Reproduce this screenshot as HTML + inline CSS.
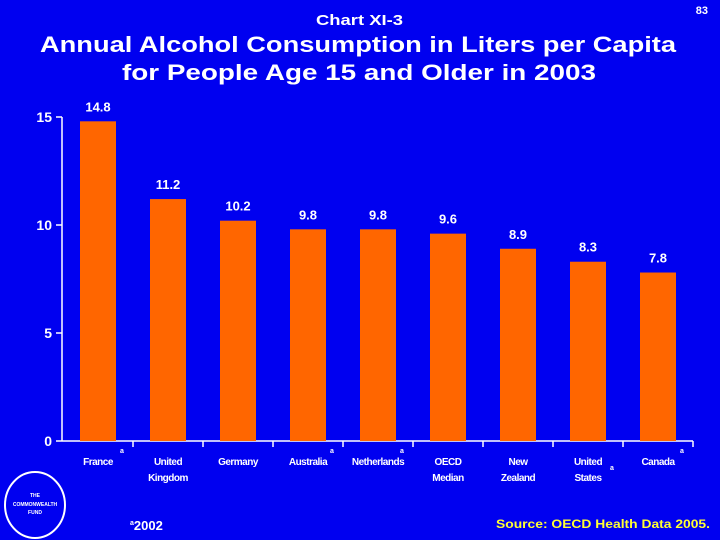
<!DOCTYPE html>
<html><head><meta charset="utf-8"><style>
body{margin:0;background:#0000f0;}
svg{display:block;font-family:"Liberation Sans",Arial,sans-serif;font-weight:bold;}
</style></head><body>
<svg width="720" height="540" viewBox="0 0 720 540">
<rect width="720" height="540" fill="#0000f0"/>
<text x="316" y="25" font-size="15" fill="#fff" textLength="87" lengthAdjust="spacingAndGlyphs">Chart XI-3</text>
<text x="708" y="14" font-size="11" fill="#fff" text-anchor="end">83</text>
<text x="40" y="52" font-size="22" fill="#fff" textLength="636" lengthAdjust="spacingAndGlyphs">Annual Alcohol Consumption in Liters per Capita</text>
<text x="122" y="80" font-size="22" fill="#fff" textLength="474" lengthAdjust="spacingAndGlyphs">for People Age 15 and Older in 2003</text>
<g id="plot"></g>
<ellipse cx="35" cy="505" rx="30" ry="33" fill="none" stroke="#fff" stroke-width="2"/>
<text x="35" y="497" font-size="5" fill="#fff" text-anchor="middle">THE</text>
<text x="35" y="506" font-size="5" fill="#fff" text-anchor="middle">COMMONWEALTH</text>
<text x="35" y="514" font-size="5" fill="#fff" text-anchor="middle">FUND</text>
<text x="130" y="530" font-size="13" fill="#fff"><tspan font-size="7" dy="-5">a</tspan><tspan dy="5">2002</tspan></text>
<text x="496" y="528" font-size="12" fill="#ffff33" textLength="214" lengthAdjust="spacingAndGlyphs">Source: OECD Health Data 2005.</text>
</svg>
<script>
const categories=[["France"],["United","Kingdom"],["Germany"],["Australia"],["Netherlands"],["OECD","Median"],["New","Zealand"],["United","States"],["Canada"]];
const values=[14.8,11.2,10.2,9.8,9.8,9.6,8.9,8.3,7.8];
const labels=["14.8","11.2","10.2","9.8","9.8","9.6","8.9","8.3","7.8"];
const footA=[true,false,false,true,true,false,false,true,true];
const yTicks=[0,5,10,15];
const NS="http://www.w3.org/2000/svg";
const g=document.getElementById('plot');
const x0=63,cw=70,yBase=441,pxPer=21.6;
const y=v=>yBase-v*pxPer;
const xc=i=>x0+cw*i+cw/2;
function mk(t,a,txt){const e=document.createElementNS(NS,t);for(const k in a)e.setAttribute(k,a[k]);if(txt!==undefined)e.textContent=txt;g.appendChild(e);return e;}
let e=mk('line',{x1:62,y1:y(15),x2:62,y2:yBase,stroke:'#fff','stroke-width':1.5});

e=mk('line',{x1:62,y1:yBase,x2:x0+cw*categories.length,y2:yBase,stroke:'#fff','stroke-width':1.5});

yTicks.forEach(t=>{
 e=mk('line',{x1:56,y1:y(t),x2:62,y2:y(t),stroke:'#fff','stroke-width':1.5});
 
 e=mk('text',{x:52,y:y(t)+5,fill:'#fff','font-size':14,'text-anchor':'end'},String(t));
 
});
categories.forEach((c,i)=>{
 e=mk('line',{x1:x0+cw*(i+1),y1:yBase,x2:x0+cw*(i+1),y2:yBase+6,stroke:'#fff','stroke-width':1.5});
 
 e=mk('rect',{x:xc(i)-18,y:y(values[i]),width:36,height:yBase-y(values[i]),fill:'#ff6600'});
 
 e=mk('text',{x:xc(i),y:y(values[i])-10,fill:'#fff','font-size':13,'text-anchor':'middle'},labels[i]);
 
 c.forEach((line,j)=>{
  e=mk('text',{x:xc(i),y:465+j*16,fill:'#fff','font-size':10,'text-anchor':'middle','letter-spacing':'-0.5'},line);
  
 });
 if(footA[i]){
  const two=c.length>1;
  e=mk('text',{x:xc(i)+22,y:two?470:453,fill:'#fff','font-size':7},'a');
  
 }
});
</script>
</body></html>
